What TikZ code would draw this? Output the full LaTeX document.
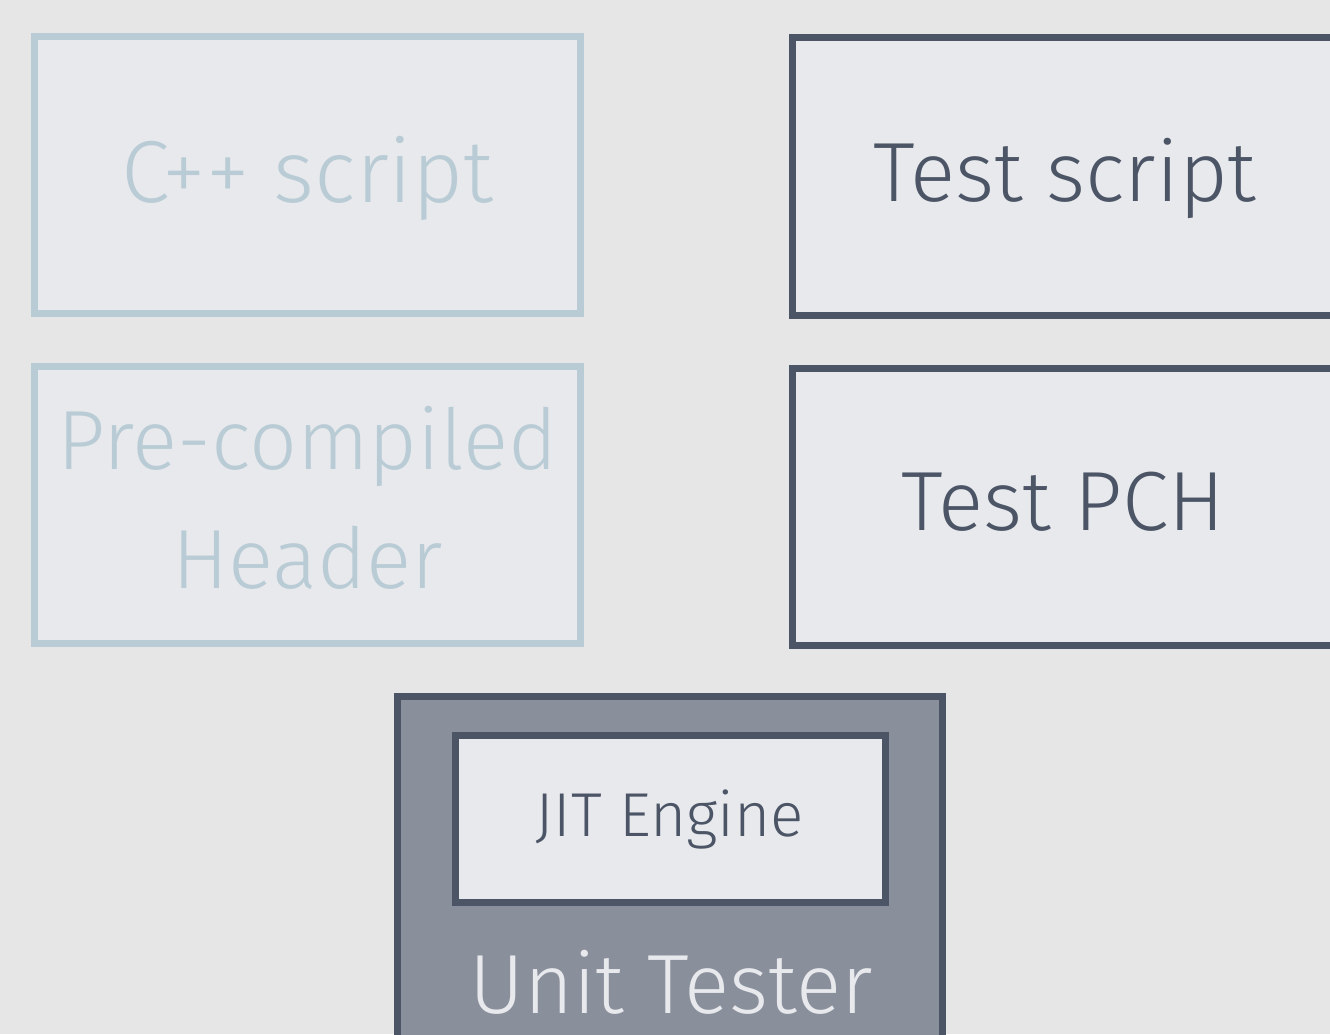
\documentclass[tikz,border=0pt]{standalone}
\usepackage{fontspec}
\setmainfont{Fira Sans Light}
\definecolor{pagebg}{HTML}{E6E6E6}
\definecolor{boxfill}{HTML}{E8E9ED}
\definecolor{paleline}{HTML}{B9CCD5}
\definecolor{darkline}{HTML}{4B5566}
\definecolor{testerfill}{HTML}{8A8F9C}
\tikzset{
  box/.style={draw, line width=7pt, fill=boxfill, inner sep=0pt, outer sep=0pt,
              minimum width=546pt, minimum height=277pt},
  palebox/.style={box, draw=paleline},
  darkbox/.style={box, draw=darkline},
  bigtext/.style={anchor=base, inner sep=0pt, font=\fontsize{84}{119}\selectfont},
  paletext/.style={bigtext, text=paleline},
  darktext/.style={bigtext, text=darkline},
}
\begin{document}
\begin{tikzpicture}[x=1pt, y=1pt]
  \fill[pagebg] (0,0) rectangle (1330,-1034);
  \useasboundingbox (0,0) rectangle (1330,-1034);
  \clip (0,0) rectangle (1330,-1034);

  % left column: plain C++ inputs
  \node[palebox] (cpp) at (307.5,-175) {};
  \node[paletext, font=\fontsize{88}{119}\selectfont] (cpptxt) at (307.5,-202) {C++ script};
  \node[palebox] (pch) at (307.5,-505) {};
  \node[paletext] (pchtxt) at (307.5,-469) {Pre-compiled};
  \node[paletext] (pchtxt2) at (307.5,-588) {Header};

  % right column: test inputs
  \node[darkbox, minimum width=549pt, minimum height=278pt] (tscript) at (1067,-176.5) {};
  \node[darktext] (tscripttxt) at (1065,-201) {Test script};
  \node[darkbox, minimum width=549pt] (tpch) at (1067,-507) {};
  \node[darktext] (tpchtxt) at (1063,-530) {Test PCH};

  % unit tester with embedded JIT engine
  \node[draw=darkline, line width=7pt, fill=testerfill, inner sep=0pt,
        minimum width=545pt, minimum height=345pt] (tester) at (670,-869) {};
  \node[draw=darkline, line width=7pt, fill=boxfill, inner sep=0pt,
        minimum width=430pt, minimum height=167pt] (jit) at (670.5,-819) {};
  \node[anchor=base, inner sep=0pt, text=darkline, font=\fontsize{62}{74}\selectfont]
        (jittxt) at (670,-836) {JIT Engine};
  \node[bigtext, text=boxfill] (testertxt) at (671,-1013) {Unit Tester};
\end{tikzpicture}
\end{document}
